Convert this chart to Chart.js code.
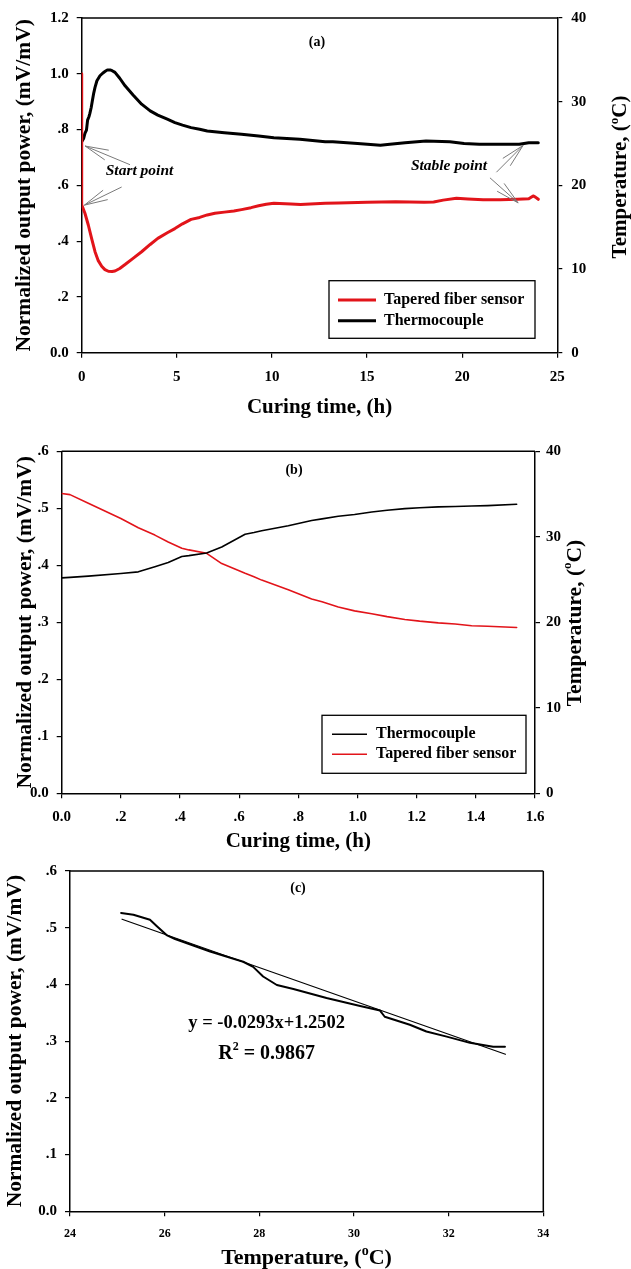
<!DOCTYPE html>
<html><head><meta charset="utf-8">
<script src="https://cdn.jsdelivr.net/npm/chart.js@4/dist/chart.umd.min.js"></script>
<style>
html,body{margin:0;padding:0;background:#fff;}
body{width:631px;height:1269px;position:relative;overflow:hidden;}
.wrap{position:absolute;left:0;width:631px;}
</style></head><body>
<div class="wrap" style="top:0;height:420px"><canvas id="chA"></canvas></div>
<div class="wrap" style="top:420px;height:434px"><canvas id="chB"></canvas></div>
<div class="wrap" style="top:854px;height:415px"><canvas id="chC"></canvas></div>
<script>
// panel (a): 24 h curing
var timeA_sensor = [0,0,0.17,0.35,0.52,0.7,0.87,1.05,1.22,1.4,1.6,1.75,2.0,2.28,2.7,3.15,3.6,4.0,4.5,4.9,5.3,5.75,6.2,6.6,7.0,7.5,8.0,8.4,8.9,9.3,9.7,10.1,11.0,11.5,12.8,13.5,15.0,16.5,18.0,18.5,19.0,19.7,20.3,21.1,22.0,22.9,23.5,23.73,23.85,24.0];
var sensorA = [1.0,0.53,0.50,0.457,0.41,0.362,0.33,0.31,0.298,0.292,0.291,0.293,0.302,0.316,0.338,0.362,0.388,0.41,0.43,0.445,0.462,0.478,0.485,0.494,0.50,0.504,0.508,0.513,0.52,0.527,0.532,0.536,0.533,0.531,0.536,0.537,0.539,0.541,0.539,0.54,0.547,0.554,0.551,0.548,0.548,0.55,0.552,0.562,0.558,0.55];
var timeA_thermo = [0,0.1,0.17,0.25,0.31,0.38,0.43,0.5,0.56,0.63,0.7,0.8,0.96,1.1,1.22,1.35,1.49,1.6,1.75,2.0,2.28,2.7,3.15,3.6,4.0,4.5,4.9,5.3,5.75,6.2,6.6,7.5,8.4,9.3,10.1,11.47,12.8,13.2,14.5,15.7,16.2,17.0,18.1,19.35,20.1,20.9,22.0,23.0,23.5,24.0];
var thermoA = [25.2,25.6,26.2,26.6,27.8,28.2,28.6,29.3,30.1,31.0,31.7,32.5,33.1,33.4,33.6,33.8,33.8,33.7,33.5,32.8,31.9,30.8,29.7,28.9,28.4,27.9,27.5,27.2,26.9,26.7,26.5,26.3,26.1,25.9,25.7,25.5,25.2,25.2,25.0,24.8,24.9,25.1,25.3,25.2,25.0,24.9,24.9,24.9,25.1,25.1];

// panel (b): first 1.5 h
var timeB = [0,0.028,0.09,0.2,0.259,0.315,0.36,0.406,0.43,0.49,0.541,0.62,0.65,0.676,0.766,0.845,0.88,0.935,0.99,1.048,1.1,1.16,1.21,1.273,1.33,1.386,1.44,1.538];
var sensorB = [0.526,0.524,0.509,0.482,0.466,0.453,0.441,0.430,0.427,0.421,0.403,0.386,0.380,0.374,0.357,0.341,0.336,0.327,0.320,0.315,0.310,0.305,0.302,0.299,0.297,0.294,0.293,0.291];
var thermoB = [25.2,25.25,25.4,25.7,25.9,26.5,27.0,27.7,27.8,28.1,28.8,30.3,30.5,30.7,31.3,31.9,32.1,32.4,32.6,32.9,33.1,33.3,33.4,33.5,33.55,33.6,33.65,33.8];

// panel (c): output power vs temperature + linear fit
var tempC = [25.08,25.34,25.69,25.83,26.04,26.22,26.96,27.66,27.87,28.08,28.37,28.72,29.42,30.13,30.55,30.65,31.18,31.53,31.96,32.45,32.94,33.19];
var powerC = [0.526,0.523,0.514,0.503,0.487,0.48,0.458,0.44,0.431,0.414,0.399,0.392,0.376,0.362,0.354,0.343,0.329,0.317,0.308,0.297,0.29,0.29];
var fitTemp = [25.1,33.2];
var fitPower = [0.515,0.277];

var ticksA_left = [0,1.2,0.2], ticksA_right = [0,40,10], ticksA_x = [0,25,5];
var ticksB_left = [0,0.6,0.1], ticksB_right = [0,40,10], ticksB_x = [0,1.6,0.2];
var ticksC_left = [0,0.6,0.1], ticksC_x = [24,34,2];

var RED = '#e2141a', FAM = '"Liberation Serif", "Times New Roman", serif';

function pts(xs, ys){ return xs.map(function(x,i){ return {x:x, y:ys[i]}; }); }
function dec(v){ v = Math.round(v*10)/10; if (v===0) return '0.0'; if (v<1) return v.toFixed(1).slice(1); return v.toFixed(1); }
function intf(v){ return String(Math.round(v)); }

function axis(pos, t, fmt, size, pad, fixed, title){
  var o = {
    type:'linear', position:pos, min:t[0], max:t[1],
    border:{display:true, color:'#000', width:1.5},
    grid:{display:true, drawOnChartArea:false, drawTicks:true, tickLength:5, color:'#000', lineWidth:1.2},
    ticks:{stepSize:t[2], color:'#000', padding:pad, font:{family:FAM, weight:'bold', size:size}, callback:fmt, maxRotation:0, autoSkip:false},
    afterFit:function(s){ if (pos==='bottom') s.height = fixed; else s.width = fixed; }
  };
  if (title) o.title = title;
  return o;
}

function sup(ctx, parts, cx, cy, size, rot){
  ctx.save();
  ctx.translate(cx, cy); ctx.rotate(rot||0);
  ctx.textBaseline = 'alphabetic'; ctx.textAlign = 'left'; ctx.fillStyle = '#000';
  var w = 0;
  parts.forEach(function(p){ ctx.font = 'bold ' + (p[1] ? Math.round(size*0.62) : size) + 'px ' + FAM; w += ctx.measureText(p[0]).width; });
  var x = -w/2, base = size*0.35;
  parts.forEach(function(p){
    var s = p[1] ? Math.round(size*0.62) : size;
    ctx.font = 'bold ' + s + 'px ' + FAM;
    ctx.fillText(p[0], x, p[1] ? base - size*0.42 : base);
    x += ctx.measureText(p[0]).width;
  });
  ctx.restore();
}

function text(ctx, s, x, y, font, align){
  ctx.save(); ctx.font = font; ctx.fillStyle = '#000'; ctx.textAlign = align||'center'; ctx.textBaseline = 'middle';
  ctx.fillText(s, x, y); ctx.restore();
}

function arrow(ctx, xs, ys, from, to){
  var x1 = xs.getPixelForValue(from[0]), y1 = ys.getPixelForValue(from[1]);
  var x2 = xs.getPixelForValue(to[0]), y2 = ys.getPixelForValue(to[1]);
  var a = Math.atan2(y2-y1, x2-x1), L = 24, w = 0.22;
  ctx.save(); ctx.strokeStyle = '#7a7a7a'; ctx.lineWidth = 1;
  ctx.beginPath(); ctx.moveTo(x1,y1); ctx.lineTo(x2,y2);
  ctx.moveTo(x2,y2); ctx.lineTo(x2-L*Math.cos(a-w), y2-L*Math.sin(a-w));
  ctx.moveTo(x2,y2); ctx.lineTo(x2-L*Math.cos(a+w), y2-L*Math.sin(a+w));
  ctx.stroke(); ctx.restore();
}

function frame(ctx, ca, right){
  ctx.save(); ctx.strokeStyle = '#000'; ctx.lineWidth = 1.5;
  ctx.beginPath(); ctx.moveTo(ca.left, ca.top); ctx.lineTo(ca.right, ca.top);
  if (right) { ctx.moveTo(ca.right, ca.top); ctx.lineTo(ca.right, ca.bottom); }
  ctx.stroke(); ctx.restore();
}

function legend(ctx, box, rows, lw){
  ctx.save();
  ctx.strokeStyle = '#000'; ctx.lineWidth = 1.3;
  ctx.strokeRect(box[0], box[1], box[2]-box[0], box[3]-box[1]);
  rows.forEach(function(r){
    ctx.strokeStyle = r.color; ctx.lineWidth = lw;
    ctx.beginPath(); ctx.moveTo(r.x1, r.y); ctx.lineTo(r.x2, r.y); ctx.stroke();
    text(ctx, r.label, r.tx, r.y, 'bold 16px ' + FAM, 'left');
  });
  ctx.restore();
}

var leftTitle = function(padTop){
  return {display:true, text:'Normalized output power, (mV/mV)', color:'#000', padding:{top:padTop, bottom:0}, font:{family:FAM, weight:'bold', size:21.5}};
};
var xTitle = function(padBottom){
  return {display:true, text:'Curing time, (h)', color:'#000', padding:{top:0, bottom:padBottom}, font:{family:FAM, weight:'bold', size:21}};
};

var base = {responsive:true, maintainAspectRatio:false, animation:false, events:[],
  plugins:{legend:{display:false}, tooltip:{enabled:false}},
  elements:{point:{radius:0}, line:{tension:0, borderJoinStyle:'round', borderCapStyle:'round'}}};

function opts(extra){ return Object.assign({}, base, extra); }

// ---- chart (a)
new Chart(document.getElementById('chA'), {
  type:'line',
  data:{datasets:[
    {label:'Tapered fiber sensor', data:pts(timeA_sensor, sensorA), yAxisID:'y', borderColor:RED, borderWidth:3},
    {label:'Thermocouple', data:pts(timeA_thermo, thermoA), yAxisID:'y2', borderColor:'#000', borderWidth:3}
  ]},
  options:opts({
    layout:{padding:{top:12.7, left:0, right:0, bottom:0}},
    scales:{
      x:axis('bottom', ticksA_x, intf, 15, 10, 67.3, xTitle(0)),
      y:axis('left', ticksA_left, dec, 15, 8, 81.7, leftTitle(12)),
      y2:axis('right', ticksA_right, intf, 15, 9, 73.7)
    }
  }),
  plugins:[{id:'decorA', afterDraw:function(c){
    var ctx = c.ctx, ca = c.chartArea, xs = c.scales.x, ys = c.scales.y;
    frame(ctx, ca, false);
    text(ctx, '(a)', 317, 42, 'bold 14px ' + FAM);
    text(ctx, 'Start point', 105.7, 170.7, 'italic bold 15.5px ' + FAM, 'left');
    text(ctx, 'Stable point', 449, 165.7, 'italic bold 15.5px ' + FAM);
    arrow(ctx, xs, ys, [2.54,0.674], [0.18,0.741]);
    arrow(ctx, xs, ys, [2.1,0.594], [0.14,0.529]);
    arrow(ctx, xs, ys, [21.8,0.647], [23.2,0.743]);
    arrow(ctx, xs, ys, [21.46,0.627], [22.94,0.537]);
    legend(ctx, [329,280.7,535,338.3], [
      {color:RED, label:'Tapered fiber sensor', x1:338, x2:376, tx:384, y:300},
      {color:'#000', label:'Thermocouple', x1:338, x2:376, tx:384, y:320.7}
    ], 3);
    sup(ctx, [['Temperature, (',0],['o',1],['C)',0]], 619, 177, 21, -Math.PI/2);
  }}]
});

// ---- chart (b)
new Chart(document.getElementById('chB'), {
  type:'line',
  data:{datasets:[
    {label:'Thermocouple', data:pts(timeB, thermoB), yAxisID:'y2', borderColor:'#000', borderWidth:1.6},
    {label:'Tapered fiber sensor', data:pts(timeB, sensorB), yAxisID:'y', borderColor:RED, borderWidth:1.6}
  ]},
  options:opts({
    layout:{padding:{top:31.3, left:0, right:0, bottom:0}},
    scales:{
      x:axis('bottom', ticksB_x, dec, 15, 10, 60.7, xTitle(0)),
      y:axis('left', ticksB_left, dec, 15, 8, 61.7, leftTitle(13)),
      y2:axis('right', ticksB_right, intf, 15, 6, 96)
    }
  }),
  plugins:[{id:'decorB', afterDraw:function(c){
    var ctx = c.ctx, ca = c.chartArea;
    frame(ctx, ca, false);
    text(ctx, '(b)', 294, 50, 'bold 14px ' + FAM);
    legend(ctx, [322,295.3,526,353.3], [
      {color:'#000', label:'Thermocouple', x1:332, x2:367, tx:376, y:314.3},
      {color:RED, label:'Tapered fiber sensor', x1:332, x2:367, tx:376, y:334.3}
    ], 1.6);
    sup(ctx, [['Temperature, (',0],['o',1],['C)',0]], 573, 203, 21.5, -Math.PI/2);
  }}]
});

// ---- chart (c)
new Chart(document.getElementById('chC'), {
  type:'line',
  data:{datasets:[
    {label:'Data', data:pts(tempC, powerC), borderColor:'#000', borderWidth:2},
    {label:'Fit', data:pts(fitTemp, fitPower), borderColor:'#000', borderWidth:1.2}
  ]},
  options:opts({
    layout:{padding:{top:17, left:0, right:87.7, bottom:0}},
    scales:{
      x:axis('bottom', ticksC_x, intf, 12, 10, 57.7),
      y:axis('left', ticksC_left, dec, 15, 8, 70, leftTitle(3))
    }
  }),
  plugins:[{id:'decorC', afterDraw:function(c){
    var ctx = c.ctx, ca = c.chartArea;
    frame(ctx, ca, true);
    text(ctx, '(c)', 298, 34, 'bold 14px ' + FAM);
    text(ctx, 'y = -0.0293x+1.2502', 266.7, 169.3, 'bold 18.5px ' + FAM);
    sup(ctx, [['R',0],['2',1],[' = 0.9867',0]], 266.7, 197.7, 20, 0);
    sup(ctx, [['Temperature, (',0],['o',1],['C)',0]], 306.5, 402.7, 22, 0);
  }}]
});
</script>
</body></html>
